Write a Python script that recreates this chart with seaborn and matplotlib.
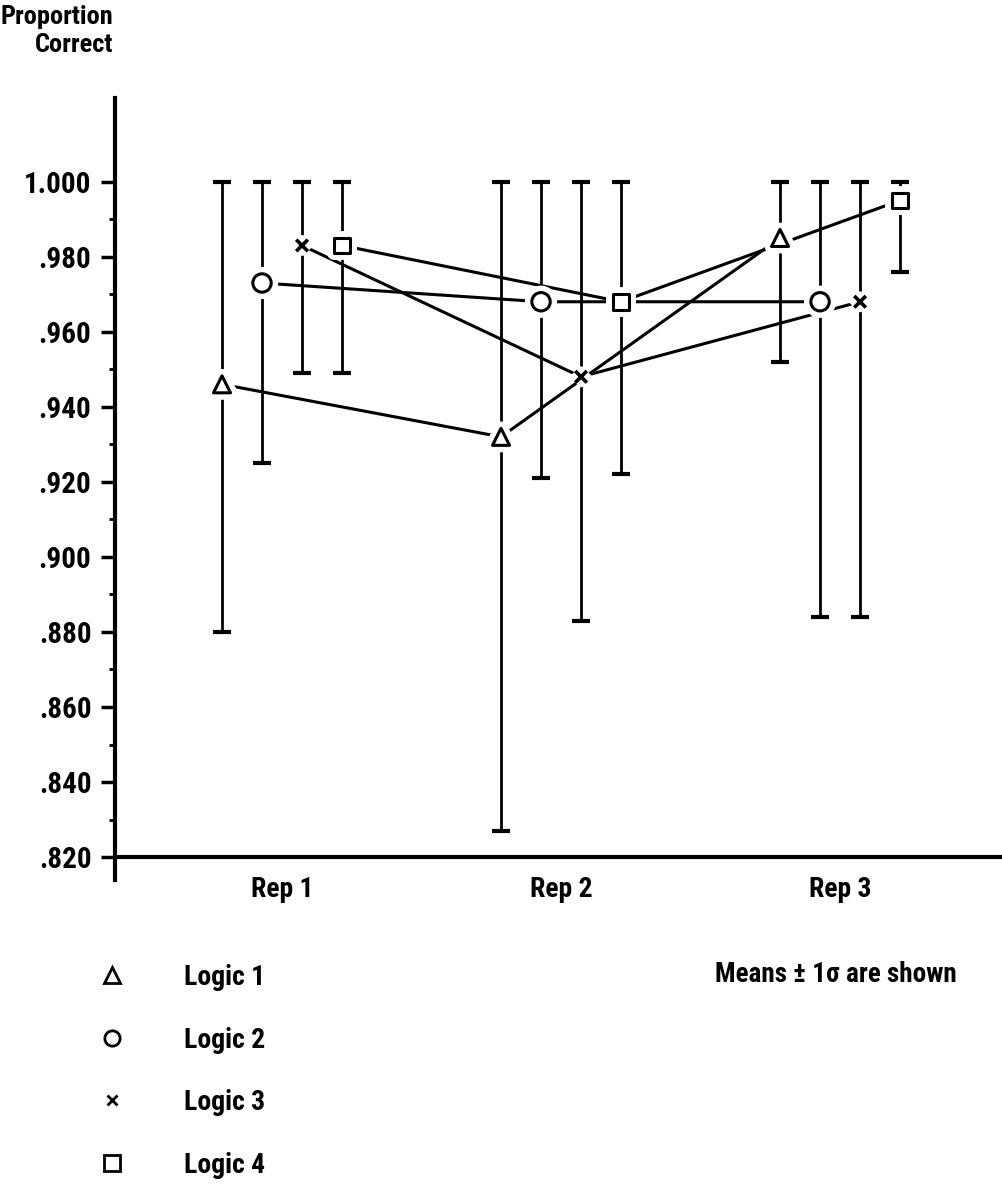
import numpy as np
import pandas as pd
import matplotlib
matplotlib.use("Agg")
import matplotlib.pyplot as plt
import matplotlib.patheffects as pe
from matplotlib.lines import Line2D
import seaborn as sns

# ---------------- data ----------------
reps = ["Rep 1", "Rep 2", "Rep 3"]
logics = ["Logic 1", "Logic 2", "Logic 3", "Logic 4"]

mean_logic1 = [0.946, 0.932, 0.985]
mean_logic2 = [0.973, 0.968, 0.968]
mean_logic3 = [0.983, 0.948, 0.968]
mean_logic4 = [0.983, 0.968, 0.995]

low_logic1 = [0.880, 0.827, 0.952]
low_logic2 = [0.925, 0.921, 0.884]
low_logic3 = [0.949, 0.883, 0.884]
low_logic4 = [0.949, 0.922, 0.976]

high_logic1 = [1.000, 1.000, 1.000]
high_logic2 = [1.000, 1.000, 1.000]
high_logic3 = [1.000, 1.000, 1.000]
high_logic4 = [1.000, 1.000, 1.000]

ytick_values = [0.820, 0.840, 0.860, 0.880, 0.900, 0.920, 0.940, 0.960, 0.980, 1.000]
ytick_labels = [".820", ".840", ".860", ".880", ".900", ".920", ".940", ".960", ".980", "1.000"]

means = [mean_logic1, mean_logic2, mean_logic3, mean_logic4]
lows = [low_logic1, low_logic2, low_logic3, low_logic4]
highs = [high_logic1, high_logic2, high_logic3, high_logic4]

# ---------------- style ----------------
sns.set_style("white")
FAM = ["Roboto Condensed", "DejaVu Sans"]
plt.rcParams["font.family"] = FAM
plt.rcParams["font.weight"] = "bold"
plt.rcParams["font.stretch"] = "condensed"
plt.rcParams["text.color"] = "black"
TXT = dict(family=FAM, fontweight="bold", fontstretch="condensed", color="black")

W, H = 1003, 1187
fig = plt.figure(figsize=(W / 100, H / 100), dpi=100)
ax_left_px, ax_right_px, ax_top_px, ax_bot_px = 115, 1003, 98, 880
ax = fig.add_axes([ax_left_px / W, 1 - ax_bot_px / H,
                   (ax_right_px - ax_left_px) / W, (ax_bot_px - ax_top_px) / H])

dodge = 0.1434
offsets = {lg: (i - 1.5) * dodge for i, lg in enumerate(logics)}
marker_map = {"Logic 1": "^", "Logic 2": "o", "Logic 3": "x", "Logic 4": "s"}
size_map = {"Logic 1": 150, "Logic 2": 175, "Logic 3": 70, "Logic 4": 125}

rows = []
for lg, m, lo, hi in zip(logics, means, lows, highs):
    for ri, rep in enumerate(reps):
        rows.append({"logic": lg, "rep": rep, "xpos": ri + offsets[lg],
                     "mean": m[ri], "low": lo[ri], "high": hi[ri]})
df = pd.DataFrame(rows)

# error bars
ax.errorbar(df["xpos"], df["mean"],
            yerr=[df["mean"] - df["low"], df["high"] - df["mean"]],
            fmt="none", ecolor="black", elinewidth=2.0, capsize=6.5,
            capthick=3.0, zorder=2)

# connecting lines
sns.lineplot(data=df, x="xpos", y="mean", hue="logic",
             palette=["black"] * 4, estimator=None, sort=True,
             linewidth=2.2, legend=False, ax=ax, zorder=3)

# markers with white halo (gaps around markers like the drawing)
halo = [pe.Stroke(linewidth=10, foreground="white"), pe.Normal()]
for lg in logics:
    sub = df[df["logic"] == lg]
    if marker_map[lg] == "x":
        sns.scatterplot(data=sub, x="xpos", y="mean", marker="x",
                        s=size_map[lg], color="black", linewidth=2.6,
                        ax=ax, zorder=5, legend=False, path_effects=halo)
    else:
        sns.scatterplot(data=sub, x="xpos", y="mean", marker=marker_map[lg],
                        s=size_map[lg], color="white", edgecolor="black",
                        linewidth=2.2, ax=ax, zorder=5, legend=False,
                        path_effects=halo)

# axes
ax.set_xlim(-0.5986, 2.584)
ax.set_ylim(0.8139, 1.0223)
ax.axhline(0.820, color="black", linewidth=3.0, zorder=1)
for side in ["top", "right", "bottom"]:
    ax.spines[side].set_visible(False)
ax.spines["left"].set_linewidth(3.0)
ax.spines["left"].set_color("black")

ax.set_yticks(ytick_values)
ax.set_yticklabels(ytick_labels, fontsize=21, **TXT)
ax.set_yticks(np.array(ytick_values[:-1]) + 0.01, minor=True)
ax.tick_params(axis="y", which="major", direction="out", length=10,
               width=2.5, pad=7, colors="black", left=True)
ax.tick_params(axis="y", which="minor", direction="out", length=4.5,
               width=2.0, colors="black", left=True)

ax.set_xticks(range(len(reps)))
ax.set_xticklabels(reps, fontsize=20, **TXT)
ax.tick_params(axis="x", length=0, pad=-3, colors="black")
ax.set_xlabel("")
ax.set_ylabel("")

# y-axis title at the top-left
fig.text(113 / W, 1 - 5 / H, "Proportion\nCorrect", ha="right", va="top",
         fontsize=19, linespacing=1.2, **TXT)

# legend
handles = []
for lg in logics:
    if marker_map[lg] == "x":
        h = Line2D([], [], linestyle="none", marker="x", markersize=7,
                   markeredgewidth=2.0, color="black")
    else:
        h = Line2D([], [], linestyle="none", marker=marker_map[lg],
                   markersize=11, markerfacecolor="white",
                   markeredgecolor="black", markeredgewidth=2.0)
    handles.append(h)
leg = fig.legend(handles, logics, loc="upper left",
                 bbox_to_anchor=(98 / W, 1 - 964 / H), frameon=False,
                 prop={"family": FAM, "weight": "bold", "size": 20,
                       "stretch": "condensed"},
                 handlelength=1.0, handletextpad=2.1, labelspacing=1.28,
                 borderpad=0, borderaxespad=0)
for t in leg.get_texts():
    t.set_color("black")

fig.text(957 / W, 1 - 975 / H, "Means \u00b1 1\u03c3 are shown", ha="right",
         va="center", fontsize=19.5, **TXT)

fig.savefig("out.png", dpi=100, facecolor="white")
